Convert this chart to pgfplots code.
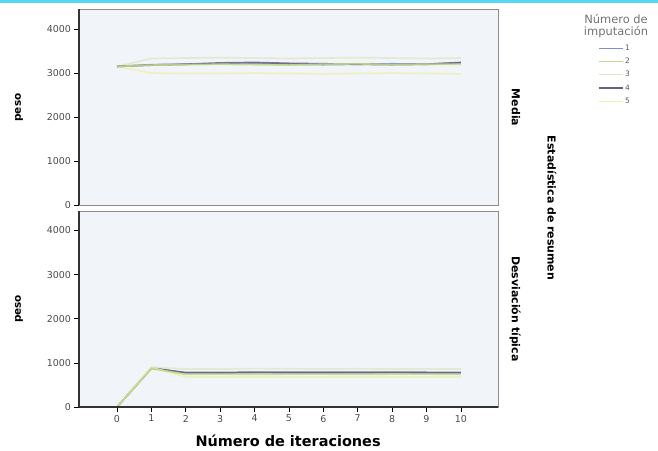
\documentclass[border=0pt]{standalone}
\usepackage{fontspec}
\setmainfont{DejaVu Sans}
\usepackage{pgfplots}
\usepackage{pgfplotstable}
\pgfplotsset{compat=1.18}

\definecolor{panelbg}{HTML}{F1F4F8}
\definecolor{framegray}{HTML}{8C8C8C}
\definecolor{band}{HTML}{55D6F6}
\definecolor{imp1}{HTML}{7F8FCF}
\definecolor{imp2}{HTML}{C3DB86}
\definecolor{imp3}{HTML}{E4E6CC}
\definecolor{imp4}{HTML}{6A6080}
\definecolor{imp5}{HTML}{EDF1B4}

% Iteration history of the imputed variable: mean per imputation
\pgfplotstableread{
it   m1    m2    m3    m4    m5
0    3150  3150  3150  3150  3150
1    3190  3180  3330  3180  3000
2    3200  3190  3340  3200  2990
3    3210  3200  3350  3230  2990
4    3220  3190  3340  3240  3000
5    3200  3180  3330  3220  2990
6    3190  3200  3340  3210  2980
7    3200  3210  3350  3200  2990
8    3210  3190  3340  3190  3000
9    3200  3200  3330  3200  2990
10   3230  3200  3340  3240  2980
}\meantab

% Standard deviation per imputation
\pgfplotstableread{
it   s1   s2   s3   s4   s5
0    0    0    0    0    0
1    880  870  900  880  900
2    770  740  860  780  680
3    770  745  860  780  680
4    775  740  870  790  680
5    770  745  865  790  680
6    770  745  860  785  680
7    770  740  865  785  680
8    775  745  860  790  680
9    770  745  860  785  680
10   770  740  860  780  680
}\sdtab

\pgfplotsset{
  panel/.style={
    scale only axis, width=419bp, height=196bp,
    xmin=-1.105, xmax=11.08, ymin=0, ymax=4440,
    ytick={0,1000,2000,3000,4000},
    xtick={0,1,...,10},
    axis background/.style={fill=panelbg},
    axis line style={draw=framegray, line width=0.9pt},
    tick style={black, line width=0.7pt},
    tick align=outside, major tick length=4.5bp,
    ytick pos=left,
    ticklabel style={font=\fontsize{9.5}{10}\selectfont, text=black!70},
    /pgf/number format/assume math mode=true,
    /pgf/number format/1000 sep={},
    ylabel={peso},
    ylabel style={font=\fontsize{10.5}{12}\selectfont\bfseries,
                  at={(axis description cs:-0.143,0.5)}, anchor=center},
    every axis plot/.append style={line width=1.7pt, line join=round, opacity=0.85},
    clip=false,
  },
}

\begin{document}
\begin{tikzpicture}
\useasboundingbox (0,0) rectangle (658bp,451bp);
\fill[band] (0,448bp) rectangle (658bp,451bp);

% Upper panel: Media
\begin{axis}[panel,
  at={(79bp,245.5bp)}, anchor=south west,
  xtick=\empty,
  legend style={draw=none, fill=none, at={(rel axis cs:1.238,0.83)}, anchor=north west,
                font=\fontsize{7.5}{7.5}\selectfont, text=black!65, inner sep=0pt,
                row sep=2.2bp, cells={anchor=west}},
  legend image code/.code={\draw[#1, line width=1.2pt, opacity=1] (0bp,0bp) -- (24bp,0bp);},
]
\addlegendimage{imp1}\addlegendentry{1}
\addlegendimage{imp2}\addlegendentry{2}
\addlegendimage{imp3}\addlegendentry{3}
\addlegendimage{imp4}\addlegendentry{4}
\addlegendimage{imp5}\addlegendentry{5}
\addplot[imp3, forget plot] table[x=it, y=m3] {\meantab};
\addplot[imp5, forget plot] table[x=it, y=m5] {\meantab};
\addplot[imp1, forget plot] table[x=it, y=m1] {\meantab};
\addplot[imp4, forget plot] table[x=it, y=m4] {\meantab};
\addplot[imp2, forget plot] table[x=it, y=m2] {\meantab};
\draw[black!80, line width=1.1pt] (rel axis cs:0,0) -- (rel axis cs:0,1);
\node[rotate=-90, font=\fontsize{11}{12}\selectfont\bfseries] at (rel axis cs:1.043,0.5) {Media};
\end{axis}

% Lower panel: Desviación típica
\begin{axis}[panel,
  at={(79bp,44bp)}, anchor=south west,
  xtick pos=bottom,
  xlabel={Número de iteraciones},
  xlabel style={font=\fontsize{14.5}{16}\selectfont\bfseries,
                at={(axis description cs:0.499,-0.173)}, anchor=center},
]
\addplot[imp3] table[x=it, y=s3] {\sdtab};
\addplot[imp1] table[x=it, y=s1] {\sdtab};
\addplot[imp4] table[x=it, y=s4] {\sdtab};
\addplot[imp5] table[x=it, y=s5] {\sdtab};
\addplot[imp2] table[x=it, y=s2] {\sdtab};
\draw[black!80, line width=1.1pt] (rel axis cs:0,0) -- (rel axis cs:0,1);
\draw[black!80, line width=1.1pt] (rel axis cs:0,0) -- (rel axis cs:1,0);
\node[rotate=-90, font=\fontsize{11}{12}\selectfont\bfseries] at (rel axis cs:1.041,0.5) {Desviación típica};
\end{axis}

% Panel strip and legend heading
\node[rotate=-90, font=\fontsize{11}{12}\selectfont\bfseries] at (552bp,243bp) {Estadística de resumen};
\node[font=\fontsize{11.5}{12}\selectfont, text=black!55, align=center, inner sep=0pt]
  at (616bp,425bp) {Número de\\imputación};
\end{tikzpicture}
\end{document}
